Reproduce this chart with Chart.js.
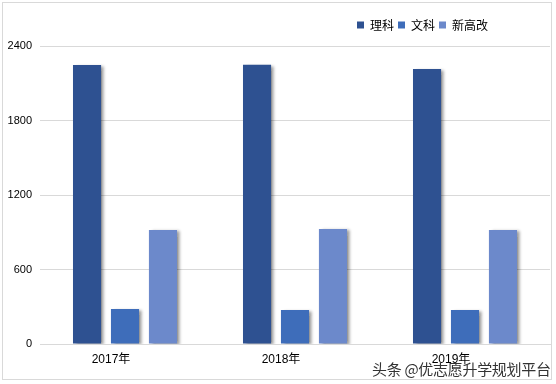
<!DOCTYPE html>
<html><head><meta charset="utf-8">
<script src="https://cdn.jsdelivr.net/npm/chart.js@4.4.0/dist/chart.umd.min.js"></script>
<style>
html,body{margin:0;padding:0;background:#fff;}
#wrap{position:relative;width:556px;height:384px;}
#credit{position:absolute;left:372px;top:358px;font:15px "Noto Sans CJK SC",sans-serif;color:#333;white-space:nowrap;letter-spacing:-0.3px;}
</style></head>
<body><div id="wrap"><canvas id="c" width="556" height="384"></canvas><div id="credit">头条 @优志愿升学规划平台</div></div>
<script>
const categories = ['2017年', '2018年', '2019年'];
const seriesNames = ['理科', '文科', '新高改'];
const like = [2247, 2250, 2215];
const wenke = [282, 274, 274];
const xingaogai = [918, 926, 918];
const yTicks = [0, 600, 1200, 1800, 2400];

const colors = ['#2E5191', '#3E6DBA', '#6C89CB'];

const shadowPlugin = {
  id: 'shadow',
  beforeDraw(chart) {
    const ctx = chart.ctx;
    ctx.save();
    ctx.fillStyle = '#fff';
    ctx.fillRect(0, 0, chart.width, chart.height);
    ctx.strokeStyle = '#d9d9d9';
    ctx.lineWidth = 1;
    ctx.strokeRect(2.5, 2.5, 549, 377);
    ctx.restore();
  },
  afterLayout(chart) {
    const lg = chart.legend;
    const w = lg.width;
    lg.right = 492;
    lg.left = 492 - w;
    lg.top -= 5;
    lg.bottom -= 5;
  },
  beforeDatasetsDraw(chart) {
    const ctx = chart.ctx;
    ctx.save();
    ctx.shadowColor = 'rgba(0,0,0,0.4)';
    ctx.shadowBlur = 3;
    ctx.shadowOffsetX = 3;
    ctx.shadowOffsetY = 1;
  },
  afterDatasetsDraw(chart) {
    chart.ctx.restore();
  }
};

new Chart(document.getElementById('c'), {
  type: 'bar',
  data: {
    labels: categories,
    datasets: [
      { label: seriesNames[0], data: like, backgroundColor: colors[0] },
      { label: seriesNames[1], data: wenke, backgroundColor: colors[1] },
      { label: seriesNames[2], data: xingaogai, backgroundColor: colors[2] }
    ]
  },
  options: {
    responsive: false,
    animation: false,
    devicePixelRatio: 1,
    categoryPercentage: 0.67,
    barPercentage: 0.74,
    layout: { padding: { left: 3, right: 6, top: 20, bottom: 10 } },
    plugins: {
      tooltip: { enabled: false },
      legend: {
        position: 'top',
        align: 'end',
        labels: {
          boxWidth: 7, boxHeight: 7, padding: 4, color: '#000',
          font: { family: '"Noto Sans CJK SC", sans-serif', size: 12 }
        }
      }
    },
    scales: {
      x: {
        grid: { display: false, drawTicks: false },
        border: { display: true, color: '#d9d9d9' },
        ticks: {
          color: '#000', padding: 8, labelOffset: -14, maxRotation: 0,
          font: { family: '"Liberation Sans", "Noto Sans CJK SC", sans-serif', size: 12 }
        },
        afterFit(s) { s.height = 30; }
      },
      y: {
        min: 0, max: 2400,
        afterBuildTicks(s) { s.ticks = yTicks.map(v => ({ value: v })); },
        grid: { color: '#d9d9d9', drawTicks: false },
        border: { display: false },
        ticks: {
          color: '#000', padding: 8,
          font: { family: '"Liberation Sans", sans-serif', size: 11 },
          callback: (v) => String(v)
        },
        afterFit(s) { s.width = 37; }
      }
    }
  },
  plugins: [shadowPlugin]
});
</script>
</body></html>
